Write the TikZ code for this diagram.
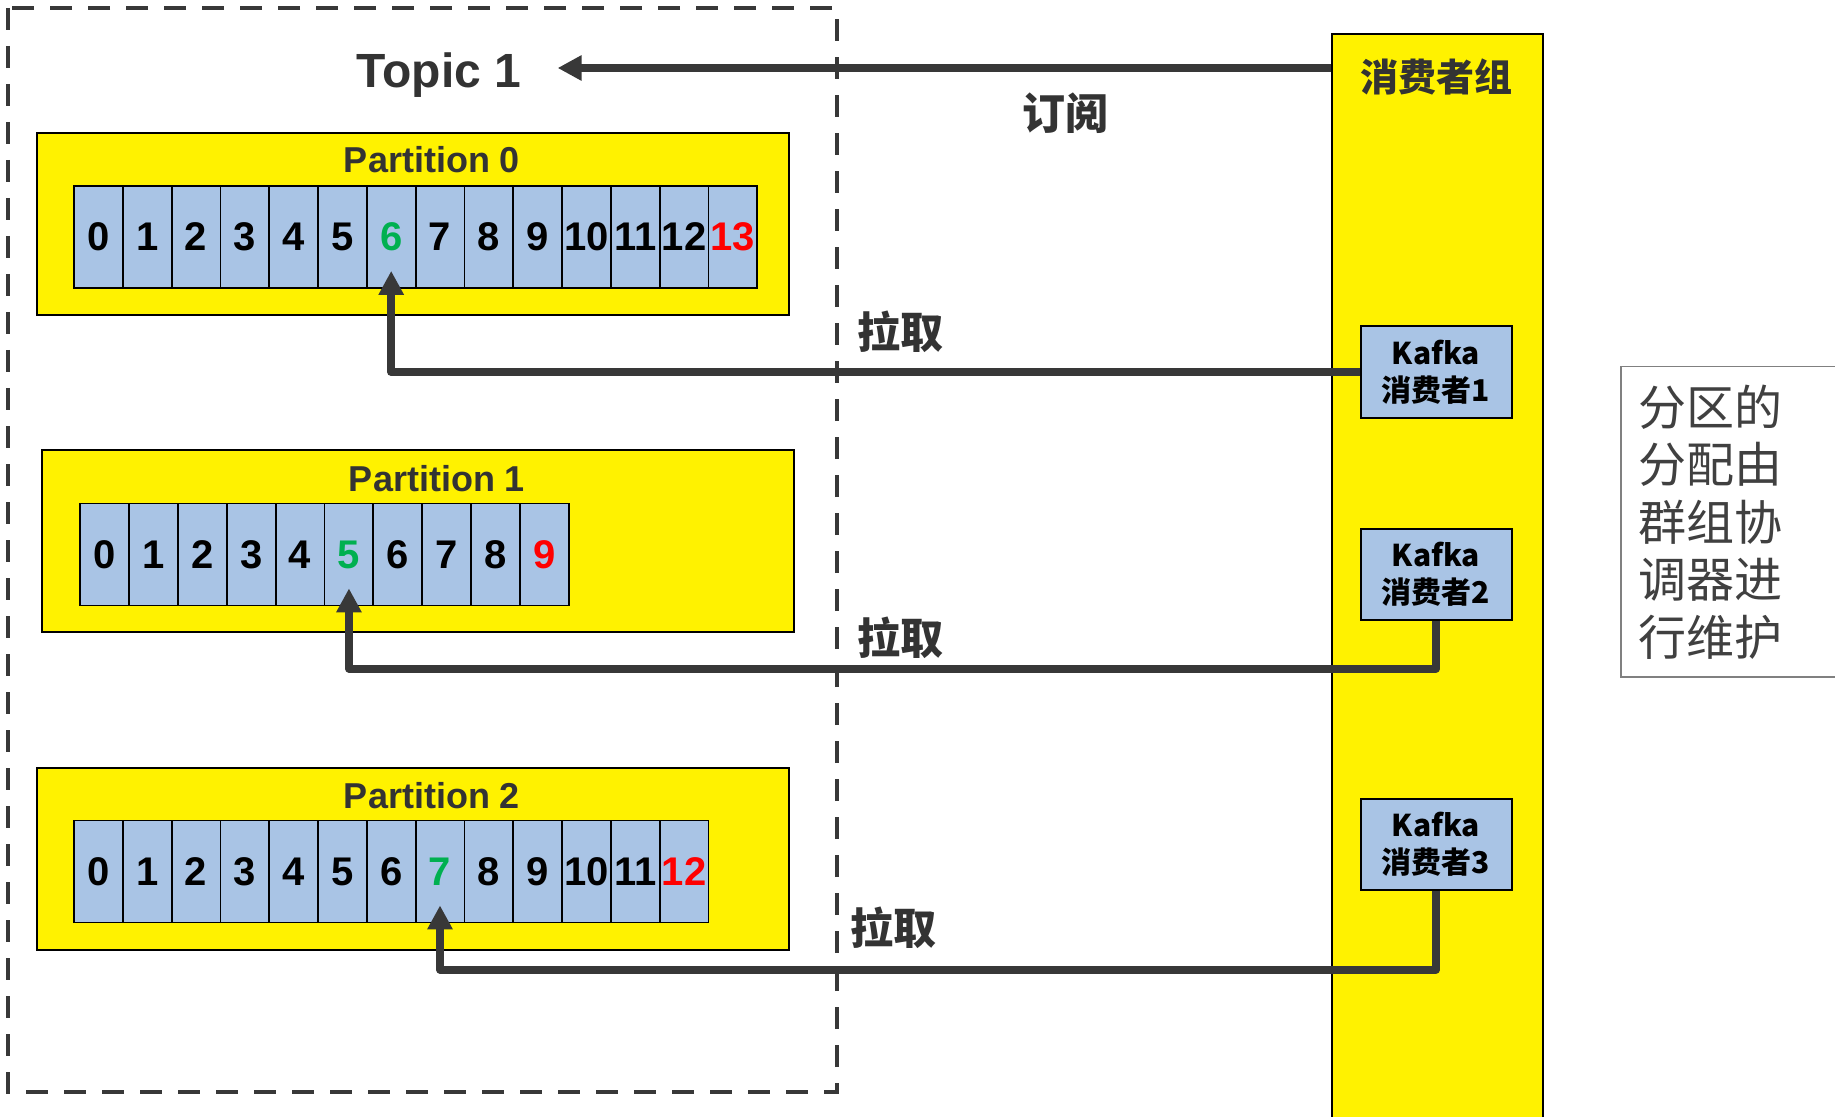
\documentclass[tikz,border=0pt]{standalone}
\usepackage{fontspec}
\setmainfont{Liberation Sans}
\newfontfamily\cjk{Noto Sans CJK SC}
\usetikzlibrary{arrows.meta}

\definecolor{cellblue}{HTML}{A9C4E5}
\definecolor{txtgray}{HTML}{333333}
\definecolor{arrowgray}{HTML}{383838}
\definecolor{notegray}{HTML}{404040}
\definecolor{offgreen}{HTML}{00B050}
\definecolor{offred}{HTML}{FF0000}

\begin{document}
\begin{tikzpicture}[x=0.5pt,y=-0.5pt,
	cell/.style={draw=black, line width=0.9pt, fill=cellblue, minimum width=24.4pt, minimum height=51pt, inner sep=0pt, font=\fontsize{20}{20}\selectfont\bfseries},
	partbox/.style={draw=black, line width=1pt, fill=yellow, anchor=north west, minimum width=376pt, minimum height=91pt, inner sep=0pt},
	partlbl/.style={text=txtgray, font=\fontsize{18}{20}\selectfont\bfseries},
	consumer/.style={draw=black, line width=1pt, fill=cellblue, minimum width=75.5pt, minimum height=45.5pt, align=center, inner sep=0pt, font=\cjk\fontsize{15}{18.5}\selectfont\bfseries},
	lbl/.style={text=txtgray, font=\cjk\fontsize{21.5}{24}\selectfont\bfseries},
	pull/.style={draw=arrowgray, line width=4pt, line join=round, -{Triangle[length=12pt,width=12pt]}}]
	\useasboundingbox (0,0) rectangle (1835,1117);

	% Topic
	\draw [arrowgray, line width=2pt, dash pattern=on 11pt off 8pt] (8,8) rectangle (837,1092);
	\node [text=txtgray, inner sep=0pt, font=\fontsize{24}{28}\selectfont\bfseries] (topic) at (439,75) {Topic 1};

	% Grupo de consumidores
	\node [draw=black, line width=1pt, fill=yellow, anchor=north west, minimum width=105.5pt, minimum height=546pt, inner sep=0pt] (grp) at (1331,33) {};
	\node [text=txtgray, font=\cjk\fontsize{19}{22}\selectfont\bfseries] (grplbl) at (1436,77) {消费者组};

	% Particiones
	\node [partbox] (part0) at (36,132) {};
	\node [partbox] (part1) at (41,449) {};
	\node [partbox] (part2) at (36,767) {};
	\node [partlbl] (plbl0) at (432,160) {Partition 0};
	\node [partlbl] (plbl1) at (437,479) {Partition 1};
	\node [partlbl] (plbl2) at (432,796) {Partition 2};

	\foreach \i in {0,...,13}
		\node [cell] (p0c\i) at ({74+48.8*(\i+0.5)},237) {\ifnum\i=6 \color{offgreen}\fi\ifnum\i=13 \color{offred}\fi\i};
	\foreach \i in {0,...,9}
		\node [cell] (p1c\i) at ({80+48.9*(\i+0.5)},554.5) {\ifnum\i=5 \color{offgreen}\fi\ifnum\i=9 \color{offred}\fi\i};
	\foreach \i in {0,...,12}
		\node [cell] (p2c\i) at ({74+48.8*(\i+0.5)},871.5) {\ifnum\i=7 \color{offgreen}\fi\ifnum\i=12 \color{offred}\fi\i};

	% Consumidores
	\node [consumer] (k1) at (1436,372) {Kafka\\消费者1};
	\node [consumer] (k2) at (1436,574) {Kafka\\消费者2};
	\node [consumer] (k3) at (1436,844) {Kafka\\消费者3};

	% Flechas
	\draw [pull] (grp.west |- 0,68) -- ([xshift=18pt]topic.east |- 0,68);
	\draw [pull] (k1.west) -| ([yshift=9pt]p0c6.south);
	\draw [pull] (k2.south) -- ++(0,48) -| ([yshift=9pt]p1c5.south);
	\draw [pull] (k3.south) -- ++(0,79) -| ([yshift=9pt]p2c7.south);

	\node [lbl] (sub) at (1065,113) {订阅};
	\node [lbl] (pull1) at (900,332) {拉取};
	\node [lbl] (pull2) at (900,638) {拉取};
	\node [lbl] (pull3) at (893,928) {拉取};

	% Nota
	\node [draw=gray, line width=0.75pt, anchor=north west, text width=100pt, inner xsep=9pt, minimum height=155pt, align=left, text=notegray, font=\cjk\fontsize{24}{28.75}\selectfont] (note) at (1620,366) {分区的\\分配由\\群组协\\调器进\\行维护};
\end{tikzpicture}
\end{document}
